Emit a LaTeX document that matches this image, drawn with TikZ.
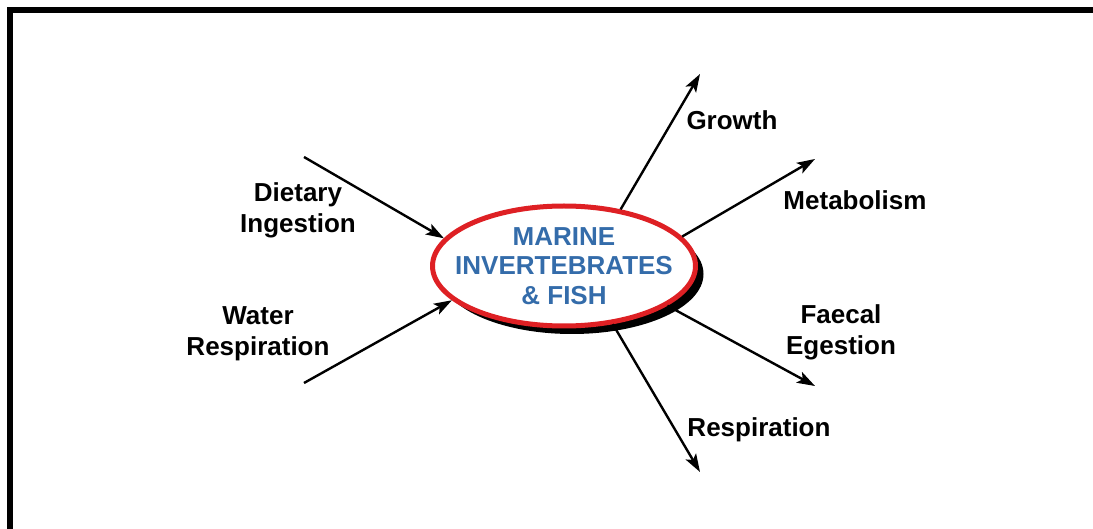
\documentclass[tikz,border=0pt]{standalone}
\usepackage{fontspec}
\setmainfont{Liberation Sans}
\usetikzlibrary{shapes.geometric,arrows.meta,shadows}
\definecolor{fishblue}{RGB}{52,108,170}
\definecolor{fishred}{RGB}{222,32,36}
\begin{document}
\begin{tikzpicture}[x=1pt,y=-1pt,
  flowtext/.style={align=center,font=\fontsize{26}{31}\selectfont\bfseries},
  flow/.style={line width=2.4pt,-{Stealth[length=18pt,width=12pt,inset=4pt]}},
  organism/.style={ellipse,draw=fishred,line width=5pt,fill=white,inner sep=0pt,
    minimum width=263pt,minimum height=120pt,
    drop shadow={shadow xshift=8pt,shadow yshift=-8pt,fill=black,opacity=1}}]
\useasboundingbox (0,0) rectangle (1093,529);
\draw [line width=6pt] (10,529) -- (10,10) -- (1093,10);
\node [organism] (fish) at (564,266) {};
\node [align=center,text=fishblue,font=\fontsize{26}{29.5}\selectfont\bfseries] (fishtext) at (fish) {MARINE\\INVERTEBRATES\\\& FISH};
\node [flowtext] (diet) at (298,210) {Dietary\\Ingestion};
\node [flowtext] (water) at (258,334) {Water\\Respiration};
\node [flowtext] (growth) at (732,120) {Growth};
\node [flowtext] (meta) at (855,200) {Metabolism};
\node [flowtext] (faecal) at (841,332) {Faecal\\Egestion};
\node [flowtext] (resp) at (759,430) {Respiration};
\coordinate (dietstart) at (304,157);
\coordinate (waterstart) at (304,383);
\coordinate (growthtip) at (700,74);
\coordinate (metatip) at (815,159);
\coordinate (faecaltip) at (815,386);
\coordinate (resptip) at (700,472);
\draw [flow] (dietstart) -- (fish.167);
\draw [flow] (waterstart) -- (fish.197);
\draw [flow] (fish.45) -- (growthtip);
\draw [flow] (fish.14) -- (metatip);
\draw [flow] (fish.-21) -- (faecaltip);
\draw [flow] (fish.-50) -- (resptip);
\end{tikzpicture}
\end{document}
